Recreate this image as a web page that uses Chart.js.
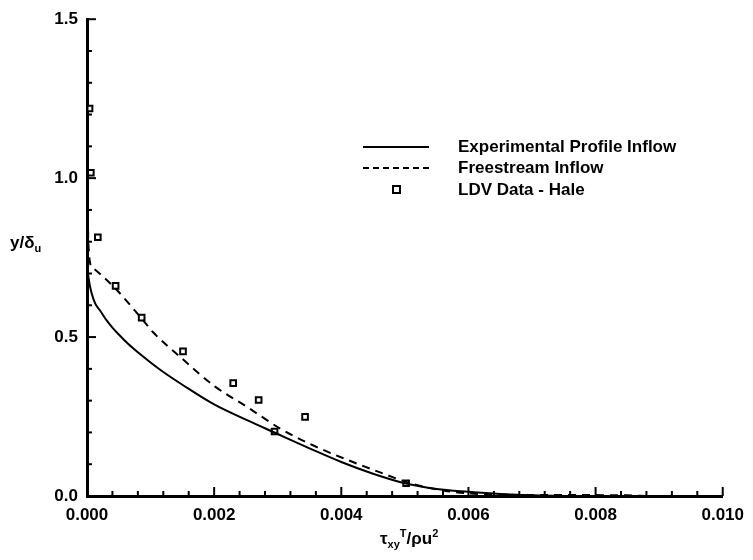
<!DOCTYPE html>
<html>
<head>
<meta charset="utf-8">
<script src="https://cdn.jsdelivr.net/npm/chart.js@4.4.1/dist/chart.umd.min.js"></script>
<style>
  body { margin: 0; background: #fff; }
  #wrap { position: relative; width: 753px; height: 560px; font-family: "Liberation Sans", Arial, sans-serif; font-weight: bold; color: #000; }
  .lbl { position: absolute; font-size: 17px; white-space: nowrap; }
  .lbl sub, .lbl sup { font-size: 11px; }
  #legend { position: absolute; left: 363px; top: 136px; font-size: 17px; }
  #legend .row { height: 21.5px; display: flex; align-items: center; }
  #legend .sample { width: 66px; margin-right: 29px; display: flex; justify-content: center; }
  .solid { width: 66px; border-top: 2px solid #000; }
  .dash { width: 66px; border-top: 2px dashed #000; }
  .sq { width: 5px; height: 5px; border: 2px solid #000; }
</style>
</head>
<body>
<div id="wrap">
  <canvas id="chart"></canvas>
  <div class="lbl" style="left:10px; top:233px;">y/&delta;<sub>u</sub></div>
  <div class="lbl" style="left:380px; top:527px;">&tau;<sub>xy</sub><sup>T</sup>/&rho;u<sup>2</sup></div>
  <div id="legend">
    <div class="row"><div class="sample"><div class="solid"></div></div>Experimental Profile Inflow</div>
    <div class="row"><div class="sample"><div class="dash"></div></div>Freestream Inflow</div>
    <div class="row"><div class="sample"><div class="sq"></div></div>LDV Data - Hale</div>
  </div>
</div>
<script>
// Experimental profile inflow (solid)
const expX = [0, 0.000005, 0.00001, 0.00003, 0.00007, 0.00013, 0.0002, 0.0003, 0.0004, 0.0005, 0.00065, 0.0008, 0.001, 0.0012, 0.0015, 0.002, 0.0025, 0.003, 0.0035, 0.004, 0.0045, 0.005, 0.0055, 0.006, 0.0065, 0.007, 0.0075];
const expY = [1.5, 0.85, 0.74, 0.68, 0.64, 0.605, 0.585, 0.555, 0.53, 0.508, 0.478, 0.452, 0.42, 0.39, 0.35, 0.288, 0.24, 0.195, 0.15, 0.107, 0.07, 0.04, 0.022, 0.013, 0.006, 0.002, 0];

// Freestream inflow (dashed)
const freeX = [0, 0.00002, 0.00008, 0.00045, 0.00086, 0.00104, 0.00148, 0.00201, 0.00252, 0.00304, 0.00357, 0.00408, 0.0046, 0.00512, 0.00564, 0.006, 0.0065, 0.0075, 0.0085, 0.0088];
const freeY = [1.5, 0.8, 0.72, 0.652, 0.558, 0.515, 0.435, 0.345, 0.28, 0.212, 0.158, 0.115, 0.075, 0.038, 0.016, 0.008, 0.004, 0.003, 0.002, 0];

// LDV data - Hale (squares)
const ldvX = [0.00004, 0.00006, 0.00017, 0.00045, 0.00086, 0.00151, 0.0023, 0.0027, 0.00295, 0.00343, 0.00502];
const ldvY = [1.219, 1.017, 0.814, 0.661, 0.561, 0.455, 0.355, 0.302, 0.203, 0.249, 0.04];

function toPoints(xs, ys) {
    return xs.map((x, i) => ({ x: x, y: ys[i] }));
}

function isMultiple(v, step) {
    const r = v / step;
    return Math.abs(r - Math.round(r)) < 1e-6;
}

// inward tick marks, long on labelled ticks
const inwardTicks = {
    id: 'inwardTicks',
    afterDraw(chart) {
        const ctx = chart.ctx;
        const xs = chart.scales.x;
        const ys = chart.scales.y;
        ctx.save();
        ctx.strokeStyle = '#000';
        ctx.lineWidth = 2;
        xs.ticks.forEach(t => {
            const px = xs.getPixelForValue(t.value);
            const len = isMultiple(t.value, 0.002) ? 9 : 5;
            ctx.beginPath();
            ctx.moveTo(px, xs.top);
            ctx.lineTo(px, xs.top - len);
            ctx.stroke();
        });
        ys.ticks.forEach(t => {
            const py = ys.getPixelForValue(t.value);
            const len = isMultiple(t.value, 0.5) ? 9 : 5;
            ctx.beginPath();
            ctx.moveTo(ys.right, py);
            ctx.lineTo(ys.right + len, py);
            ctx.stroke();
        });
        ctx.restore();
    }
};

const tickFont = { family: '"Liberation Sans", Arial, sans-serif', size: 17, weight: 'bold' };

new Chart(document.getElementById('chart'), {
    type: 'scatter',
    data: {
        datasets: [{
            label: 'Experimental Profile Inflow',
            data: toPoints(expX, expY),
            showLine: true,
            borderColor: '#000',
            borderWidth: 2,
            pointRadius: 0,
            cubicInterpolationMode: 'monotone'
        }, {
            label: 'Freestream Inflow',
            data: toPoints(freeX, freeY),
            showLine: true,
            borderColor: '#000',
            borderWidth: 2,
            borderDash: [8, 6],
            pointRadius: 0,
            cubicInterpolationMode: 'monotone'
        }, {
            label: 'LDV Data - Hale',
            data: toPoints(ldvX, ldvY),
            showLine: false,
            pointStyle: 'rect',
            pointRadius: 4,
            borderColor: '#000',
            borderWidth: 2,
            backgroundColor: '#fff'
        }]
    },
    options: {
        responsive: true,
        maintainAspectRatio: false,
        animation: false,
        layout: { padding: { top: 16, right: 23, left: 0, bottom: 0 } },
        plugins: {
            legend: { display: false },
            tooltip: { enabled: false }
        },
        scales: {
            x: {
                type: 'linear',
                min: 0,
                max: 0.01,
                afterFit: s => { s.height = 64; },
                border: { display: true, color: '#000', width: 3 },
                grid: { display: false, drawTicks: false },
                ticks: {
                    stepSize: 0.0004,
                    autoSkip: false,
                    maxRotation: 0,
                    padding: 9,
                    color: '#000',
                    font: tickFont,
                    callback: v => isMultiple(v, 0.002) ? v.toFixed(3) : ''
                }
            },
            y: {
                type: 'linear',
                min: 0,
                max: 1.5,
                afterFit: s => { s.width = 87; },
                border: { display: true, color: '#000', width: 3 },
                grid: { display: false, drawTicks: false },
                ticks: {
                    stepSize: 0.1,
                    autoSkip: false,
                    padding: 9,
                    color: '#000',
                    font: tickFont,
                    callback: v => isMultiple(v, 0.5) ? v.toFixed(1) : ''
                }
            }
        }
    },
    plugins: [inwardTicks]
});
</script>
</body>
</html>
